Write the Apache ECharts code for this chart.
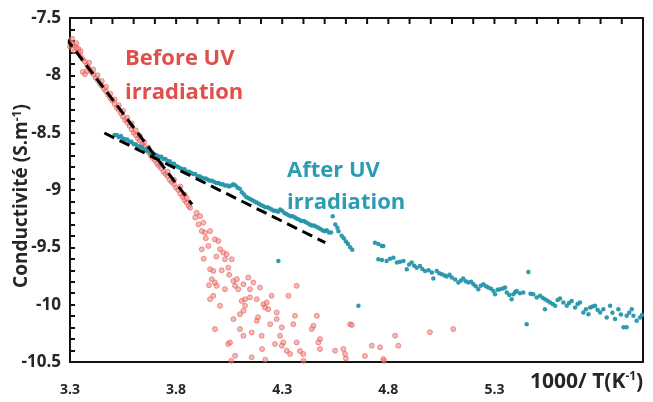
<!DOCTYPE html>
<html>
<head>
<meta charset="utf-8">
<script src="https://cdn.jsdelivr.net/npm/echarts@6/dist/echarts.min.js"></script>
<style>html,body{margin:0;padding:0;background:#fff;}#chart{width:653px;height:402px;}</style>
</head>
<body>
<div id="chart"></div>
<script>
// ---- data ----
var xMin = 3.3, xMax = 6.0, xStep = 0.5, xMinorStep = 0.1;
var yMin = -10.5, yMax = -7.5, yStep = 0.5, yMinorStep = 0.1;
var xHiddenLabels = [5.8];

var beforeUV = [
[3.29,-7.69],[3.30,-7.71],[3.30,-7.75],[3.31,-7.72],[3.31,-7.68],[3.32,-7.74],[3.32,-7.79],[3.33,-7.76],[3.33,-7.72],
[3.34,-7.80],[3.34,-7.77],[3.35,-7.83],[3.35,-7.79],[3.36,-7.86],[3.36,-7.97],[3.37,-7.99],[3.38,-7.96],[3.37,-7.88],
[3.38,-7.91],[3.39,-7.94],[3.39,-7.89],[3.40,-7.97],[3.41,-7.99],[3.41,-7.95],[3.42,-8.02],[3.43,-8.04],[3.43,-8.00],
[3.44,-8.07],[3.45,-8.09],[3.45,-8.05],[3.46,-8.12],[3.47,-8.14],[3.47,-8.10],[3.48,-8.17],[3.49,-8.20],[3.49,-8.16],
[3.50,-8.22],[3.51,-8.25],[3.51,-8.21],[3.52,-8.28],[3.53,-8.30],[3.53,-8.26],[3.54,-8.33],[3.55,-8.36],[3.55,-8.31],
[3.56,-8.39],[3.57,-8.41],[3.57,-8.37],[3.58,-8.44],[3.59,-8.47],[3.59,-8.42],[3.60,-8.50],[3.61,-8.52],[3.61,-8.48],
[3.62,-8.55],[3.63,-8.57],[3.63,-8.53],[3.64,-8.60],[3.65,-8.62],[3.65,-8.58],[3.66,-8.65],[3.67,-8.67],[3.67,-8.63],
[3.68,-8.70],[3.69,-8.72],[3.70,-8.74],[3.70,-8.70],[3.71,-8.77],[3.72,-8.79],[3.73,-8.81],[3.73,-8.77],[3.74,-8.84],
[3.75,-8.86],[3.76,-8.88],[3.76,-8.84],[3.77,-8.91],[3.78,-8.93],[3.79,-8.95],[3.79,-8.91],[3.80,-8.98],[3.81,-9.00],
[3.82,-8.97],[3.82,-9.03],[3.83,-9.06],[3.84,-9.04],[3.84,-9.09],[3.85,-9.11],[3.86,-9.14],[3.85,-9.07],
[3.866,-9.155],[3.897,-9.198],[3.913,-9.228],[3.928,-9.285],[3.921,-9.358],[3.936,-9.372],[3.960,-9.358],
[3.952,-9.489],[3.921,-9.517],[3.983,-9.430],[3.999,-9.445],[4.007,-9.517],[4.022,-9.546],[4.038,-9.561],
[4.030,-9.604],[4.062,-9.604],[4.046,-9.677],[3.960,-9.691],[3.975,-9.706],[3.968,-9.778],[3.983,-9.807],
[3.991,-9.836],[3.975,-9.923],[4.007,-10.010],[4.070,-9.793],[4.086,-9.778],[4.078,-9.836],[4.093,-9.865],
[4.117,-9.822],[4.140,-9.764],[4.148,-9.865],[4.164,-9.807],[4.195,-9.851],[4.180,-9.952],[4.109,-9.967],
[4.125,-10.010],[4.148,-9.937],[4.211,-9.996],[4.219,-10.025],[4.227,-9.981],[4.234,-10.039],[4.250,-9.923],
[4.274,-10.068],[4.368,-9.836],[4.329,-9.923],[4.360,-10.097],[4.101,-10.083],[4.117,-10.054],[4.070,-10.126],
[4.180,-10.141],[4.156,-10.242],[4.203,-10.271],[4.274,-10.126],[4.298,-10.198],[4.352,-10.170],[4.447,-10.184],
[4.463,-10.097],[4.439,-10.213],[4.054,-10.329],[4.078,-10.445],[4.117,-10.271],[4.156,-10.459],[4.290,-10.271],
[4.305,-10.329],[4.298,-10.358],[4.321,-10.401],[4.337,-10.430],[4.368,-10.329],[4.399,-10.430],[4.470,-10.329],
[4.478,-10.387],[4.549,-10.401],[4.588,-10.387],[4.620,-10.170],[4.628,-10.178],[4.722,-10.358],[4.761,-10.372],
[4.832,-10.271],[4.847,-10.358],[4.776,-10.474],[4.996,-10.240],[5.106,-10.213],
[4.06,-10.49],[4.22,-10.48],[4.40,-10.49],[4.60,-10.47],[4.78,-10.49],
[3.983,-10.213],[4.045,-10.343],[4.101,-10.213],[4.205,-10.387],[4.266,-10.343],[4.384,-10.404],[4.478,-10.300],
[4.596,-10.430],[4.690,-10.448],[3.960,-9.952],[4.030,-9.865],[4.125,-9.952],[4.186,-10.109],[4.243,-10.170],
[3.89,-9.24],[3.905,-9.30],[3.94,-9.42],[3.93,-9.60],[3.99,-9.58],[4.015,-9.70],[3.955,-9.83],[4.05,-9.74]
];

var afterUV = [
[3.51,-8.52],[3.52,-8.52],[3.53,-8.54],[3.54,-8.53],[3.55,-8.55],[3.56,-8.56],[3.57,-8.56],[3.58,-8.58],[3.59,-8.58],
[3.60,-8.60],[3.61,-8.60],[3.62,-8.62],[3.63,-8.62],[3.64,-8.63],[3.65,-8.65],[3.66,-8.65],[3.67,-8.66],[3.68,-8.68],
[3.69,-8.68],[3.70,-8.69],[3.71,-8.70],[3.72,-8.71],[3.73,-8.71],[3.74,-8.73],[3.75,-8.73],[3.76,-8.75],[3.77,-8.75],
[3.78,-8.77],[3.79,-8.77],[3.80,-8.79],[3.81,-8.80],[3.82,-8.81],[3.83,-8.82],[3.84,-8.82],[3.85,-8.84],[3.86,-8.84],
[3.87,-8.85],[3.88,-8.86],[3.89,-8.86],[3.90,-8.88],[3.91,-8.88],[3.92,-8.89],[3.93,-8.90],[3.94,-8.90],[3.95,-8.91],
[3.96,-8.92],[3.97,-8.92],[3.98,-8.93],[3.99,-8.94],[4.00,-8.94],[4.01,-8.95],[4.02,-8.95],[4.03,-8.96],[4.04,-8.96],
[4.05,-8.97],[4.06,-8.96],[4.07,-8.95],[4.08,-8.96],[4.09,-8.98],[4.10,-8.99],[4.11,-9.02],[4.12,-9.04],[4.13,-9.06],
[4.14,-9.07],[4.15,-9.08],[4.16,-9.09],[4.17,-9.10],[4.18,-9.11],[4.19,-9.12],[4.20,-9.13],[4.21,-9.14],[4.22,-9.15],
[4.23,-9.15],[4.24,-9.16],[4.25,-9.17],[4.26,-9.18],[4.27,-9.18],[4.28,-9.19],[4.29,-9.17],[4.30,-9.18],[4.31,-9.20],
[4.32,-9.21],[4.33,-9.22],[4.34,-9.23],[4.35,-9.23],[4.36,-9.24],[4.37,-9.25],[4.38,-9.26],[4.39,-9.27],[4.40,-9.27],
[4.41,-9.28],[4.42,-9.29],[4.43,-9.30],[4.44,-9.31],[4.45,-9.31],[4.46,-9.32],[4.47,-9.33],[4.48,-9.34],[4.49,-9.35],
[4.50,-9.36],[4.51,-9.35],[4.52,-9.37],[4.53,-9.37],[4.538,-9.228],[4.55,-9.30],[4.56,-9.33],[4.565,-9.36],[4.58,-9.40],
[4.59,-9.42],[4.60,-9.45],[4.61,-9.47],[4.62,-9.50],[4.63,-9.52],[4.282,-9.619],[4.659,-10.010],
[4.737,-9.459],[4.753,-9.470],[4.769,-9.489],[4.776,-9.489],[4.753,-9.604],[4.770,-9.610],[4.792,-9.619],[4.808,-9.600],
[4.824,-9.590],[4.840,-9.633],[4.855,-9.625],[4.871,-9.619],[4.887,-9.691],[4.898,-9.650],[4.910,-9.633],[4.922,-9.660],
[4.934,-9.677],[4.949,-9.662],[4.960,-9.690],[4.973,-9.706],[4.990,-9.700],[5.005,-9.720],[5.012,-9.772],[5.028,-9.706],
[5.040,-9.725],[5.052,-9.735],[5.065,-9.745],[5.075,-9.755],[5.088,-9.740],[5.099,-9.764],[5.115,-9.780],[5.130,-9.807],
[5.142,-9.790],[5.153,-9.772],[5.165,-9.795],[5.177,-9.807],[5.190,-9.800],[5.201,-9.822],[5.212,-9.840],[5.224,-9.865],
[5.236,-9.835],[5.248,-9.822],[5.260,-9.840],[5.271,-9.851],[5.284,-9.862],[5.295,-9.880],[5.303,-9.909],[5.315,-9.870],
[5.326,-9.865],[5.340,-9.858],[5.350,-9.851],[5.358,-9.894],[5.370,-9.915],[5.381,-9.952],[5.389,-9.909],[5.398,-9.890],
[5.405,-9.880],[5.420,-9.900],[5.436,-9.894],[5.460,-9.715],[5.452,-10.170],[5.470,-9.905],[5.483,-9.909],[5.499,-9.937],
[5.515,-9.923],[5.527,-9.940],[5.538,-9.952],[5.538,-10.039],[5.550,-9.965],[5.562,-9.981],[5.575,-9.995],[5.586,-10.010],
[5.598,-9.960],[5.609,-9.946],[5.625,-9.981],[5.641,-10.010],[5.652,-9.985],[5.664,-9.967],[5.680,-10.025],[5.692,-9.995],
[5.703,-9.981],[5.719,-10.068],[5.731,-10.040],[5.743,-10.083],[5.751,-10.025],[5.763,-10.015],[5.774,-10.010],
[5.786,-10.045],[5.798,-10.068],[5.813,-10.039],[5.829,-10.112],[5.845,-10.010],[5.856,-10.070],[5.868,-10.126],
[5.884,-10.039],[5.896,-10.085],[5.908,-10.198],[5.923,-10.198],[5.923,-10.097],[5.935,-10.070],[5.947,-10.039],
[5.955,-10.097],[5.970,-10.141],[5.986,-10.112],[5.995,-10.090]
];

var fitBefore = [[3.28,-7.674],[3.875,-9.126]];
var fitAfter = [[3.462,-8.503],[4.503,-9.459]];

var labelBefore = ['Before UV','irradiation'];
var labelAfter = ['After UV','irradiation'];
var yTitle = ['Conductivité (S.m', '-1', ')'];
var xTitle = ['1000/ T(K', '-1', ')'];

var GRID = {left: 70, right: 10, top: 18, bottom: 40};
var TICK_LEN = 6;

var chart = echarts.init(document.getElementById('chart'), null, {renderer:'canvas'});
var FONT = '"Open Sans", "Liberation Sans", sans-serif';
var TXT = '#262626';
var AX = '#111111';
var RED = '#e0504b';
var TEAL = '#2a9cb4';

// minor tick values of the top axis (axis decoration, placed by the x scale)
var topTickValues = [];
for (var k = Math.round(xMin / xMinorStep) + 1; k < Math.round(xMax / xMinorStep); k++) {
  topTickValues.push([Math.round(k * xMinorStep * 10) / 10, yMax]);
}

// left tick strip: a thin grid whose split lines act as the inward minor ticks
function stripAxis(gridIndex, min, max, step, showSplit) {
  return {
    type: 'value', gridIndex: gridIndex,
    min: Math.round(min / step), max: Math.round(max / step), interval: 1,
    axisLine: {show: false}, axisTick: {show: false}, axisLabel: {show: false},
    splitLine: {show: showSplit, showMinLine: true, showMaxLine: true, lineStyle: {color: AX, width: 2}}
  };
}
function gridBox(extra) {
  var g = {containLabel: false, outerBoundsMode: 'none'};
  for (var k in extra) g[k] = extra[k];
  return g;
}
var titleRich = {
  b: {fontFamily: FONT, fontWeight: 'bold', fontSize: 19, fill: TXT},
  s: {fontFamily: FONT, fontWeight: 'bold', fontSize: 12, fill: TXT, verticalAlign: 'top', padding: [0,0,9,0]}
};
function richTitle(parts) { return '{b|' + parts[0] + '}{s|' + parts[1] + '}{b|' + parts[2] + '}'; }

var option = {
  backgroundColor: '#ffffff',
  animation: false,
  grid: [
    gridBox({left: GRID.left, right: GRID.right, top: GRID.top, bottom: GRID.bottom}),
    gridBox({left: GRID.left, width: 5, top: GRID.top, bottom: GRID.bottom})
  ],
  xAxis: [
    {
      type: 'value', gridIndex: 0, position: 'bottom', min: xMin, max: xMax, interval: xStep,
      axisLine: {show: true, onZero: false, lineStyle: {color: AX, width: 2}},
      axisTick: {show: false},
      splitLine: {show: false},
      axisLabel: {
        show: true, margin: 21, color: TXT, fontFamily: FONT, fontWeight: 'bold', fontSize: 14,
        showMaxLabel: false, alignMinLabel: 'center', alignMaxLabel: 'center',
        formatter: function (v) {
          var r = Math.round(v * 10) / 10;
          if (xHiddenLabels.indexOf(r) >= 0) return '';
          return r.toFixed(1);
        }
      }
    },
    {
      type: 'value', gridIndex: 0, position: 'top', min: xMin, max: xMax, interval: xStep,
      axisLine: {show: true, onZero: false, lineStyle: {color: AX, width: 2}},
      axisTick: {show: false}, axisLabel: {show: false}, splitLine: {show: false}
    },
    stripAxis(1, 0, 1, 1, false)
  ],
  yAxis: [
    {
      type: 'value', gridIndex: 0, position: 'left', min: yMin, max: yMax, interval: yStep,
      axisLine: {show: true, onZero: false, lineStyle: {color: AX, width: 2}},
      axisTick: {show: false},
      splitLine: {show: false},
      axisLabel: {
        margin: 9, color: TXT, fontFamily: FONT, fontWeight: 'bold', fontSize: 17,
        formatter: function (v) { return String(Math.round(v * 10) / 10); }
      }
    },
    {
      type: 'value', gridIndex: 0, position: 'right', min: yMin, max: yMax, interval: yStep,
      axisLine: {show: true, onZero: false, lineStyle: {color: AX, width: 2}},
      axisTick: {show: false}, axisLabel: {show: false}, splitLine: {show: false}
    },
    stripAxis(1, yMin, yMax, yMinorStep, true)
  ],
  graphic: [
    {
      type: 'text', x: 22, y: 196, rotation: Math.PI / 2, z: 10,
      style: {text: richTitle(yTitle), rich: titleRich, align: 'center', verticalAlign: 'middle'}
    },
    {
      type: 'text', left: 530, top: 371, z: 10,
      style: {
        text: richTitle(xTitle),
        rich: {
          b: {fontFamily: FONT, fontWeight: 'bold', fontSize: 21, fill: TXT},
          s: {fontFamily: FONT, fontWeight: 'bold', fontSize: 12, fill: TXT, verticalAlign: 'top', padding: [0,0,10,0]}
        }
      }
    },
    {
      type: 'text', left: 125, top: 42,
      style: {text: labelBefore.join('\n'), fontFamily: FONT, fontWeight: 'bold', fontSize: 22, lineHeight: 34, fill: RED}
    },
    {
      type: 'text', left: 287, top: 155,
      style: {text: labelAfter.join('\n'), fontFamily: FONT, fontWeight: 'bold', fontSize: 22, lineHeight: 32, fill: TEAL}
    }
  ],
  series: [
    {
      type: 'scatter', name: 'Before UV', xAxisIndex: 0, yAxisIndex: 0, data: beforeUV, symbol: 'circle', symbolSize: 5,
      itemStyle: {color: 'rgba(240,130,125,0.7)', borderColor: 'rgba(222,80,75,0.85)', borderWidth: 0.8},
      clip: true, z: 3
    },
    {
      type: 'scatter', name: 'After UV', xAxisIndex: 0, yAxisIndex: 0, data: afterUV, symbol: 'circle', symbolSize: 4.5,
      itemStyle: {color: '#2596aa', opacity: 0.95},
      clip: true, z: 3
    },
    {
      type: 'line', xAxisIndex: 0, yAxisIndex: 0, data: fitBefore, symbol: 'none', clip: false, z: 5,
      lineStyle: {color: '#000', width: 3, type: [11, 6]}
    },
    {
      type: 'line', xAxisIndex: 0, yAxisIndex: 0, data: fitAfter, symbol: 'none', clip: false, z: 5,
      lineStyle: {color: '#000', width: 3, type: [11, 6]}
    },
    {
      type: 'scatter', name: 'top ticks', xAxisIndex: 0, yAxisIndex: 0, data: topTickValues,
      symbol: 'rect', symbolSize: [2, TICK_LEN], symbolOffset: [0, TICK_LEN / 2],
      itemStyle: {color: AX, opacity: 1}, clip: false, silent: true, z: 6
    }
  ]
};
chart.setOption(option);
</script>
</body>
</html>
